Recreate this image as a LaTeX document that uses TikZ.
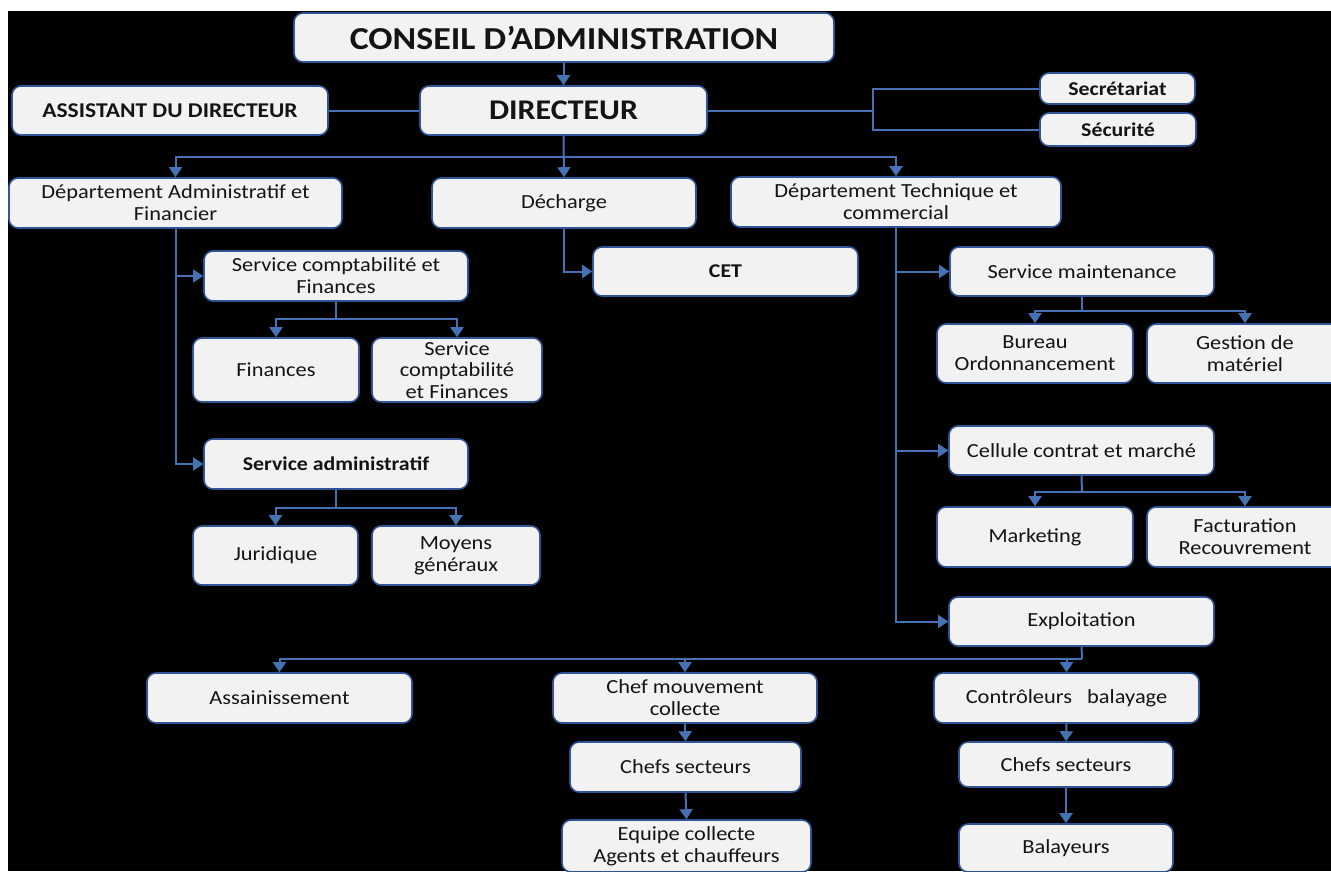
\documentclass[tikz,border=0pt]{standalone}
\usepackage{fontspec}
\setmainfont{Carlito}[FakeStretch=1.12]
\usetikzlibrary{arrows.meta}
\definecolor{boxfill}{RGB}{242,242,242}
\definecolor{boxline}{RGB}{47,85,151}
\definecolor{conncol}{RGB}{68,114,180}
\definecolor{txt}{RGB}{20,20,20}
\tikzset{
  box/.style={draw=boxline, line width=1.6pt, fill=boxfill, rounded corners=9pt,
    inner sep=2pt, align=center, text=txt, font=\fontsize{20}{22}\selectfont},
  boldbox/.style={box, font=\fontsize{19.5}{22}\selectfont\bfseries},
  sz/.style 2 args={minimum width=#1pt, minimum height=#2pt},
  conn/.style={draw=conncol, line width=2pt},
  arr/.style={conn, -{Triangle[width=13pt,length=10pt]}}
}
\begin{document}
\begin{tikzpicture}[x=1pt,y=-1pt]
\useasboundingbox (0,0) rectangle (1331,871);
\clip (0,0) rectangle (1331,871);
\fill[white] (0,0) rectangle (1331,871);
\fill[black] (8,11) rectangle (1331,871);

% top level
\node[box, sz={540}{49}, font=\fontsize{32}{34}\selectfont\bfseries] (conseil) at (564,37.5) {CONSEIL D’ADMINISTRATION};
\node[box, sz={316}{49}, font=\fontsize{21}{24}\selectfont\bfseries] (assist) at (170,110.5) {ASSISTANT DU DIRECTEUR};
\node[box, sz={287}{49}, font=\fontsize{28.5}{30}\selectfont\bfseries] (dir) at (563.5,110.5) {DIRECTEUR};
\node[boldbox, sz={155}{31}] (secr) at (1117.5,88.5) {Secrétariat};
\node[boldbox, sz={156}{33}] (secu) at (1118,129.5) {Sécurité};

% departments
\node[box, sz={333}{50}] (dadm) at (175.5,203) {Département Administratif et\\Financier};
\node[box, sz={264}{50}] (dech) at (564,203) {Décharge};
\node[box, sz={330}{50}] (dtech) at (896,202) {Département Technique et\\commercial};

% admin branch
\node[box, sz={264}{50}] (scf) at (336,276) {Service comptabilité et\\Finances};
\node[box, sz={166}{64}] (fin) at (276,370) {Finances};
\node[box, sz={170}{64}, font=\fontsize{20}{21.5}\selectfont] (scf2) at (457,370) {Service\\comptabilité\\et Finances};
\node[boldbox, sz={264}{50}] (sadm) at (336,464) {Service administratif};
\node[box, sz={165}{59}] (jur) at (275.5,555.5) {Juridique};
\node[box, sz={168}{59}] (moy) at (456,555.5) {Moyens\\généraux};

% decharge
\node[boldbox, sz={265}{49}] (cet) at (725.5,271.5) {CET};

% technical branch
\node[box, sz={264}{49}] (smaint) at (1082,271.5) {Service maintenance};
\node[box, sz={196}{59}] (bureau) at (1035,353.5) {Bureau\\Ordonnancement};
\node[box, sz={196}{59}] (gest) at (1245,353.5) {Gestion de\\matériel};
\node[box, sz={265}{49}] (cell) at (1081.5,450.5) {Cellule contrat et marché};
\node[box, sz={196}{60}] (mark) at (1035,537) {Marketing};
\node[box, sz={196}{60}] (fact) at (1245,537) {Facturation\\Recouvrement};
\node[box, sz={265}{49}] (expl) at (1081.5,621.5) {Exploitation};

% exploitation branch
\node[box, sz={265}{50}] (ass) at (279.5,698) {Assainissement};
\node[box, sz={264}{50}] (chefm) at (685,698) {Chef mouvement\\collecte};
\node[box, sz={231}{50}] (chefs1) at (685.5,767) {Chefs secteurs};
\node[box, sz={249}{52}] (equipe) at (686.5,846) {Equipe collecte\\Agents et chauffeurs};
\node[box, sz={265}{50}] (ctrl) at (1066.5,698) {Contrôleurs\ \ \ balayage};
\node[box, sz={214}{45}] (chefs2) at (1066,764.5) {Chefs secteurs};
\node[box, sz={214}{48}] (bal) at (1066,848) {Balayeurs};

% coordinates
\coordinate (sj) at (873,110.5);
\coordinate (bus1) at (563.5,157);
\coordinate (b1) at (336,319);
\coordinate (b2) at (336,508);
\coordinate (b4) at (1082,311);
\coordinate (b5) at (1082,492);
\coordinate (b3) at (1082,659);

% connectors
\draw[arr] (conseil.south -| dir.north) -- (dir.north);
\draw[conn] (assist.east) -- (dir.west);
\draw[conn] (dir.east) -- (sj);
\draw[conn] (secr.west) -| (sj) |- (secu.west);

\draw[arr] (dir.south) -- (dech.north);
\draw[arr] (bus1) -| (dadm.north);
\draw[arr] (bus1) -| (dtech.north);

\draw[arr] (dadm.south) |- (sadm.west);
\draw[arr] (dadm.south |- scf.west) -- (scf.west);
\draw[conn] (scf.south) -- (b1);
\draw[arr] (b1) -| (fin.north);
\draw[arr] (b1) -| (scf2.north);
\draw[conn] (sadm.south) -- (b2);
\draw[arr] (b2) -| (jur.north);
\draw[arr] (b2) -| (moy.north);

\draw[arr] (dech.south) |- (cet.west);

\draw[arr] (dtech.south) |- (expl.west);
\draw[arr] (dtech.south |- smaint.west) -- (smaint.west);
\draw[arr] (dtech.south |- cell.west) -- (cell.west);
\draw[conn] (smaint.south) -- (b4);
\draw[arr] (b4) -| (bureau.north);
\draw[arr] (b4) -| (gest.north);
\draw[conn] (cell.south) -- (b5);
\draw[arr] (b5) -| (mark.north);
\draw[arr] (b5) -| (fact.north);

\draw[conn] (expl.south) -- (b3);
\draw[arr] (b3) -| (ass.north);
\draw[arr] (b3) -| (chefm.north);
\draw[arr] (b3) -| (ctrl.north);
\draw[arr] (chefm.south) -- (chefs1.north);
\draw[arr] (chefs1.south) -- (equipe.north);
\draw[arr] (ctrl.south) -- (chefs2.north);
\draw[arr] (chefs2.south) -- (bal.north);
\end{tikzpicture}
\end{document}
